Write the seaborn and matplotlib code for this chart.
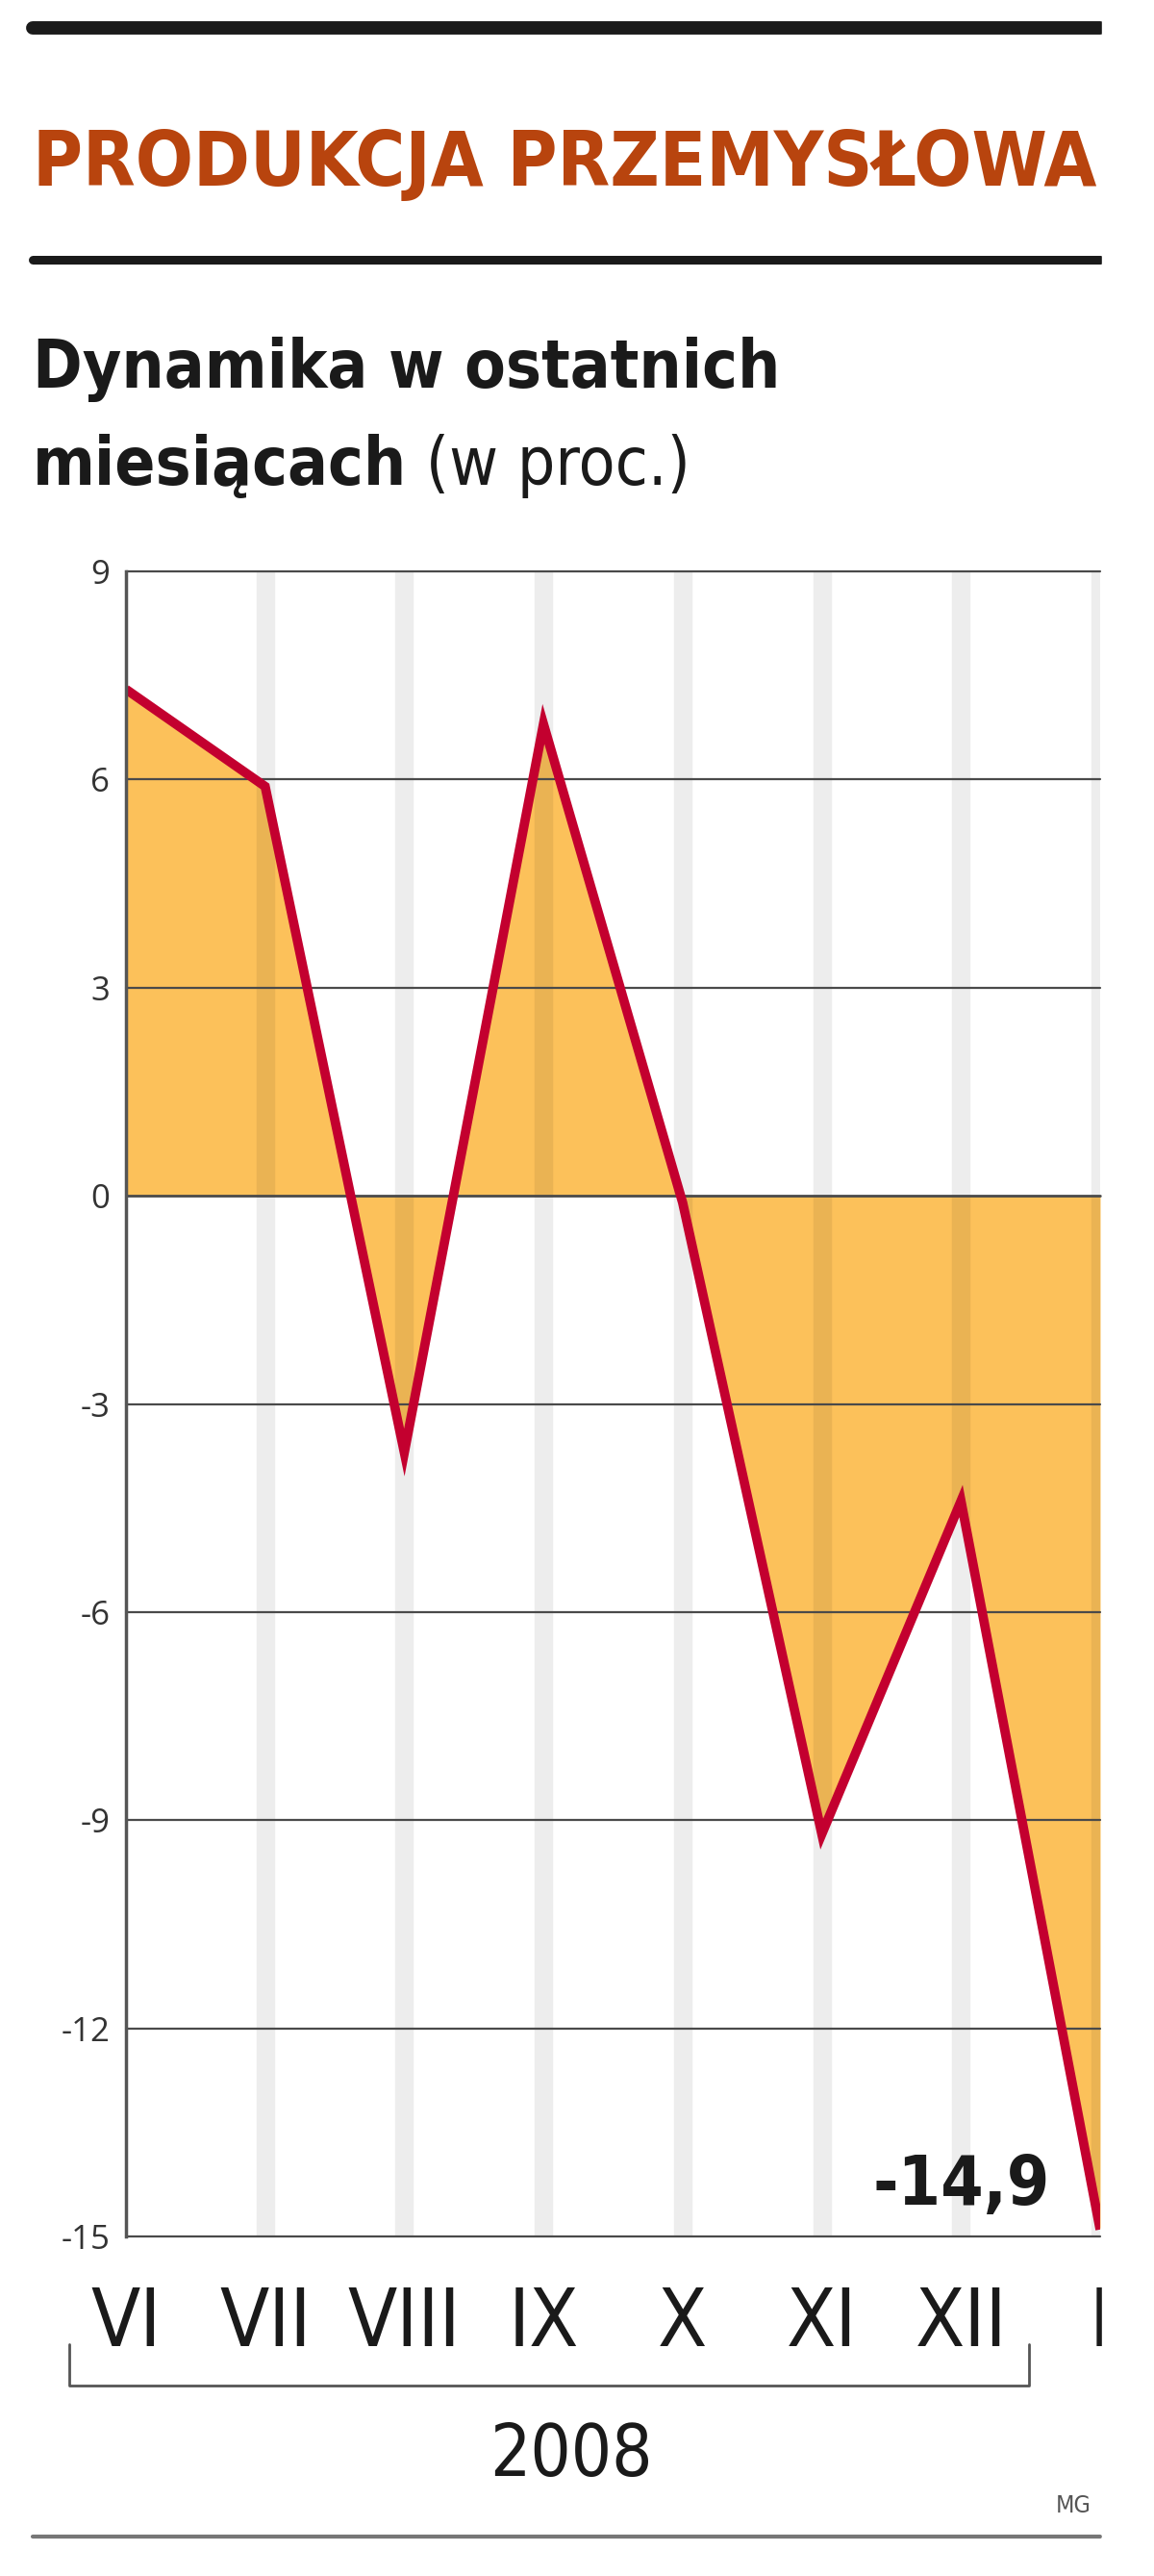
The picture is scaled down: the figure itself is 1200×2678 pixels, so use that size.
import matplotlib
matplotlib.use("Agg")
import matplotlib.pyplot as plt
import seaborn as sns
import pandas as pd
from matplotlib.lines import Line2D
from matplotlib.patches import Rectangle

# dane
months = ["VI", "VII", "VIII", "IX", "X", "XI", "XII", "I"]
values = [7.3, 5.9, -3.7, 6.8, -0.1, -9.2, -4.4, -14.9]
y_ticks = [9, 6, 3, 0, -3, -6, -9, -12, -15]
year_label = "2008"
last_label = "-14,9"
title = "PRODUKCJA PRZEMYSŁOWA"
subtitle1 = "Dynamika w ostatnich"
subtitle2 = "miesiącach"
subtitle_unit = " (w proc.)"
source = "MG"

W, H = 1200, 2678
COND = ["Liberation Sans Narrow", "DejaVu Sans Condensed", "DejaVu Sans"]
REG = ["Open Sans", "DejaVu Sans"]

sns.set_theme(style="white")
plt.rcParams["font.family"] = COND
plt.rcParams["font.stretch"] = "condensed"

df = pd.DataFrame({"x": range(len(months)), "value": values})

fig = plt.figure(figsize=(W / 100, H / 100), dpi=100)
fig.patch.set_facecolor("white")
ax = fig.add_axes([131 / W, 1 - 2325 / H, (1144 - 131) / W, (2325 - 594) / H])
ax.set_facecolor("white")

ax.fill_between(df["x"], df["value"], 0, color="#FCC15A", lw=0, zorder=1)
for xv in df["x"][1:]:
    ax.axvline(xv, color="black", alpha=0.07, lw=14, zorder=2)
for yv in y_ticks:
    ax.axhline(yv, color="#4a4a4a", lw=2.0 if yv == 0 else 1.6, zorder=3, clip_on=False)
sns.lineplot(data=df, x="x", y="value", color="#C3002F", lw=7, ax=ax, zorder=4,
             solid_joinstyle="miter", solid_capstyle="butt")

ax.set_xlim(0, len(months) - 1)
ax.set_ylim(-15, 9)
for s in ["top", "right", "bottom"]:
    ax.spines[s].set_visible(False)
ax.spines["left"].set_color("#555555")
ax.spines["left"].set_linewidth(2.5)
ax.spines["left"].set_zorder(5)

ax.set_yticks(y_ticks)
ax.set_yticklabels([str(v) for v in y_ticks], family=REG, fontstretch="normal",
                   fontsize=25, color="#333333")
ax.set_xticks(df["x"])
ax.set_xticklabels(months, family=COND, fontsize=60, color="#1a1a1a")
ax.tick_params(axis="y", length=0, pad=12)
ax.tick_params(axis="x", length=0, pad=36)
ax.set_xlabel("")
ax.set_ylabel("")
ax.grid(False)

renderer = fig.canvas.get_renderer()


def place(txt, x_px, base_px, width_px=None, size=40, ha="left", **kw):
    t = fig.text(x_px / W, 1 - base_px / H, txt, va="baseline", ha=ha, fontsize=size, **kw)
    if width_px:
        bb = t.get_window_extent(renderer)
        t.set_fontsize(size * width_px / bb.width)
    return t


place(title, 34, 193, 1106, color="#B8440E", fontweight="bold", family=COND)
t1 = place(subtitle1, 34, 403, 777, color="#1a1a1a", fontweight="bold", family=COND)
t2 = place(subtitle2, 34, 504, size=t1.get_fontsize(), color="#1a1a1a", fontweight="bold", family=COND)
bb2 = t2.get_window_extent(renderer)
place(subtitle_unit, bb2.x1, 504, size=t1.get_fontsize(), color="#1a1a1a", family=COND)

place(last_label, 1092, 2292, 184, ha="right", color="#1a1a1a", fontweight="bold", family=COND)
place(year_label, 594, 2574, 169, ha="center", color="#1a1a1a", family=COND)
place(source, 1098, 2612, size=18, color="#555555", family=COND)

# linie ozdobne
fig.add_artist(Line2D([34 / W, 1144 / W], [1 - 29 / H] * 2, color="#1a1a1a", lw=10, transform=fig.transFigure))
fig.add_artist(Line2D([34 / W, 1144 / W], [1 - 270 / H] * 2, color="#1a1a1a", lw=6.5, transform=fig.transFigure))
fig.add_artist(Line2D([34 / W, 1144 / W], [1 - 2637 / H] * 2, color="#777777", lw=3, transform=fig.transFigure))
fig.add_artist(Line2D([72 / W, 72 / W, 1070 / W, 1070 / W],
                      [1 - 2437 / H, 1 - 2480 / H, 1 - 2480 / H, 1 - 2437 / H],
                      color="#555555", lw=2, transform=fig.transFigure))

# przyciecie prawej krawedzi jak w oryginale
fig.add_artist(Rectangle((1146 / W, 0), 1, 1, transform=fig.transFigure,
                         color="white", zorder=100))

fig.savefig("out.png", dpi=100)
